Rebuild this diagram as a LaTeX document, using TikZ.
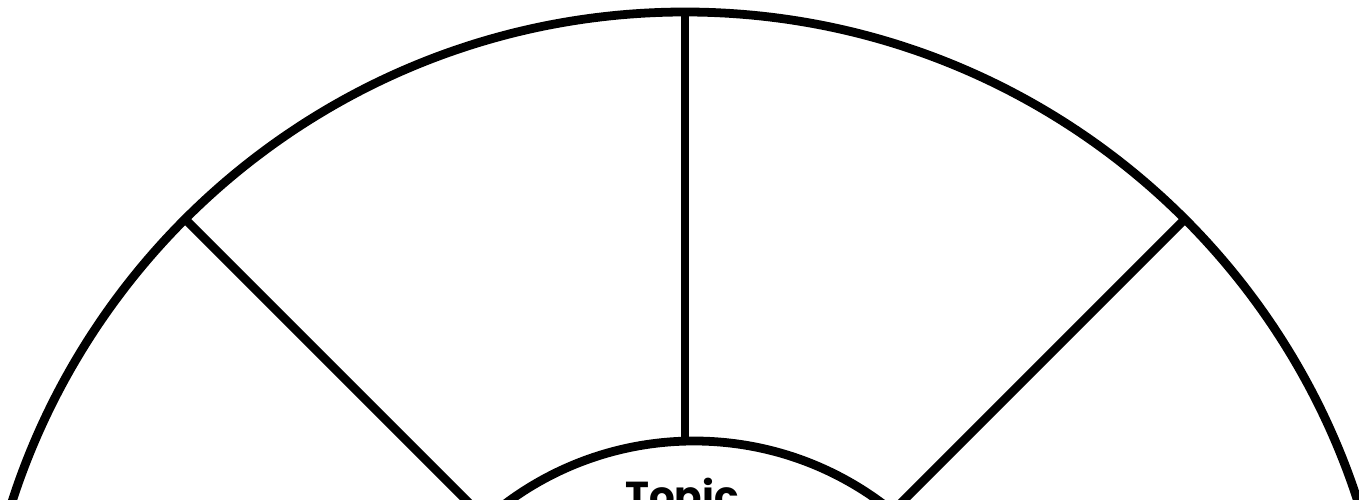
\documentclass[tikz,border=0pt]{standalone}
\usepackage{fontspec}
\setsansfont{Poppins}
\usetikzlibrary{positioning, calc}
\definecolor{inkblack}{HTML}{000000}

\begin{document}
\begin{tikzpicture}[
    font=\sffamily,
    rim/.style={draw=inkblack, line width=5pt},
    spoke/.style={draw=inkblack, line width=5pt},
    topiclabel/.style={font=\sffamily\bfseries\fontsize{23}{28}\selectfont, text=inkblack, anchor=base, inner sep=0pt}
]

% ==================== FRAME ====================
\useasboundingbox (0,0) rectangle (27.18,9.98);
\clip (0,0) rectangle (27.18,9.98);

% ==================== WHEEL ====================
\coordinate (hub) at (13.70,-4.40);
\coordinate (core) at (13.88,-5.14);

% outer rim and inner circle
\draw[rim] (hub) circle (14.14);
\draw[rim] (core) circle (6.30);

% spokes
\draw[spoke] ($(hub)+(90:5.55)$) -- ($(hub)+(90:14.14)$);
\draw[spoke] ($(hub)+(45:3)$) -- ($(hub)+(45:14.14)$);
\draw[spoke] ($(hub)+(135:3)$) -- ($(hub)+(135:14.14)$);

% ==================== CENTRE LABEL ====================
\node[topiclabel] (topic) at (13.64,-0.22) {Topic};

\end{tikzpicture}
\end{document}
